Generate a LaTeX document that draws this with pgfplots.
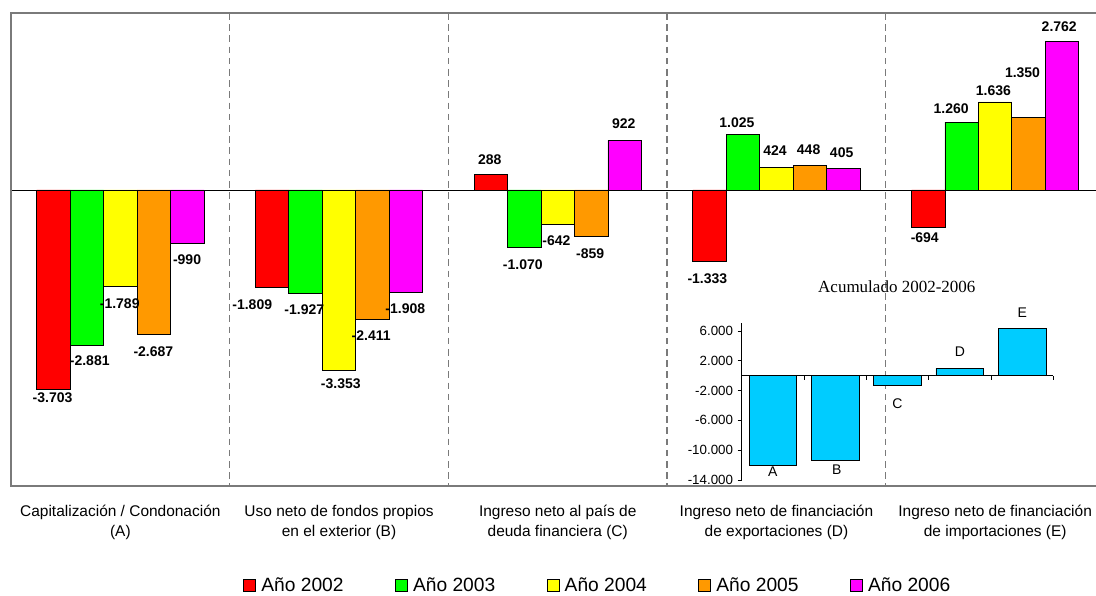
\documentclass[border=0pt]{standalone}
\usepackage{fontspec}
\setmainfont{Liberation Sans}
\newfontfamily\titleserif{Liberation Serif}
\usepackage{pgfplots}
\pgfplotsset{compat=1.18}

\definecolor{a2002}{HTML}{FF0000}
\definecolor{a2003}{HTML}{00FF00}
\definecolor{a2004}{HTML}{FFFF00}
\definecolor{a2005}{HTML}{FF9900}
\definecolor{a2006}{HTML}{FF00FF}
\definecolor{acum}{HTML}{00CCFF}
\definecolor{frame}{HTML}{7A7A7A}

\pgfplotsset{
  sq/.style={legend image code/.code={\draw[##1,draw=black,line width=0.6pt] (0pt,-4.5pt) rectangle (9pt,4.5pt);}},
}
\tikzset{
  lab/.style={font=\bfseries\fontsize{10.5}{12}\selectfont, inner sep=0pt},
  let/.style={font=\fontsize{10.5}{12}\selectfont, inner sep=0pt},
  sep/.style={frame, line width=1pt, dash pattern=on 5pt off 3.4pt},
}

\begin{document}
\begin{tikzpicture}
\useasboundingbox (0,0) rectangle (822pt,447pt);

% main chart: five groups, one bar per year
\begin{axis}[
  at={(8.25pt,82.5pt)}, anchor=south west,
  width=813.75pt, height=354.75pt, scale only axis,
  xmin=-0.5, xmax=4.461, ymin=-5502, ymax=3290,
  axis line style={draw=none},
  ytick=\empty,
  xtick={0,1,2,3,4},
  xticklabels={{Capitalización / Condonación\\(A)},
               {Uso neto de fondos propios\\en el exterior (B)},
               {Ingreso neto al país de\\deuda financiera (C)},
               {Ingreso neto de financiación\\de exportaciones (D)},
               {Ingreso neto de financiación\\de importaciones (E)}},
  major tick length=0pt,
  xticklabel style={align=center, font=\fontsize{11.6}{15}\selectfont, inner sep=0pt, yshift=-14pt},
  ybar=0pt, bar width=25.1pt,
  clip=false,
  legend columns=5,
  legend style={at={(0.2138,-0.210)}, anchor=west, draw=none, fill=none,
    inner sep=0pt, font=\fontsize{14.4}{17}\selectfont,
    nodes={inner sep=0pt}, cells={anchor=west},
    /tikz/every odd column/.append style={column sep=4pt},
    /tikz/every even column/.append style={column sep=38.5pt}},
]
\draw[sep] (axis cs:0.5,3290) -- (axis cs:0.5,-5502);
\draw[sep] (axis cs:1.5,3290) -- (axis cs:1.5,-5502);
\draw[sep] (axis cs:2.5,3290) -- (axis cs:2.5,-5502);
\draw[sep] (axis cs:3.5,3290) -- (axis cs:3.5,-5502);

\addplot[fill=a2002, draw=black, line width=0.7pt, sq] coordinates {(0,-3703) (1,-1809) (2,288) (3,-1333) (4,-694)};
\addlegendentry{Año 2002}
\addplot[fill=a2003, draw=black, line width=0.7pt, sq] coordinates {(0,-2881) (1,-1927) (2,-1070) (3,1025) (4,1260)};
\addlegendentry{Año 2003}
\addplot[fill=a2004, draw=black, line width=0.7pt, sq] coordinates {(0,-1789) (1,-3353) (2,-642) (3,424) (4,1636)};
\addlegendentry{Año 2004}
\addplot[fill=a2005, draw=black, line width=0.7pt, sq] coordinates {(0,-2687) (1,-2411) (2,-859) (3,448) (4,1350)};
\addlegendentry{Año 2005}
\addplot[fill=a2006, draw=black, line width=0.7pt, sq] coordinates {(0,-990) (1,-1908) (2,922) (3,405) (4,2762)};
\addlegendentry{Año 2006}

\draw[black, line width=0.6pt] (axis cs:-0.5,0) -- (axis cs:4.461,0);
\draw[frame, line width=1pt] (rel axis cs:1,1) -- (rel axis cs:0,1) -- (rel axis cs:0,0) -- (rel axis cs:1,0);

% value labels
\node[lab] at (axis cs:-0.310,-3853) {-3.703};
\node[lab] at (axis cs:-0.140,-3165) {-2.881};
\node[lab] at (axis cs:-0.003,-2106) {-1.789};
\node[lab] at (axis cs:0.151,-2998) {-2.687};
\node[lab] at (axis cs:0.305,-1301) {-990};
\node[lab] at (axis cs:0.603,-2138) {-1.809};
\node[lab] at (axis cs:0.841,-2225) {-1.927};
\node[lab] at (axis cs:1.008,-3600) {-3.353};
\node[lab] at (axis cs:1.147,-2714) {-2.411};
\node[lab] at (axis cs:1.303,-2212) {-1.908};
\node[lab] at (axis cs:1.689,571) {288};
\node[lab] at (axis cs:1.840,-1381) {-1.070};
\node[lab] at (axis cs:1.994,-948) {-642};
\node[lab] at (axis cs:2.148,-1177) {-859};
\node[lab] at (axis cs:2.302,1227) {922};
\node[lab] at (axis cs:2.684,-1641) {-1.333};
\node[lab] at (axis cs:2.819,1251) {1.025};
\node[lab] at (axis cs:2.993,725) {424};
\node[lab] at (axis cs:3.147,743) {448};
\node[lab] at (axis cs:3.298,701) {405};
\node[lab] at (axis cs:3.678,-879) {-694};
\node[lab] at (axis cs:3.799,1519) {1.260};
\node[lab] at (axis cs:3.992,1846) {1.636};
\node[lab] at (axis cs:4.125,2180) {1.350};
\node[lab] at (axis cs:4.293,3035) {2.762};
\end{axis}

% inset: accumulated 2002-2006
\begin{axis}[
  at={(556.3pt,87pt)}, anchor=south west,
  width=233.7pt, height=117.4pt, scale only axis,
  xmin=-0.5, xmax=4.5, ymin=-14000, ymax=7000,
  axis x line=middle, axis y line=left,
  axis line style={-, black, line width=0.6pt},
  xtick={0.5,1.5,2.5,3.5,4.5}, xticklabels={},
  ytick={-14000,-10000,-6000,-2000,2000,6000},
  scaled y ticks=false,
  tick align=outside, major tick length=3pt,
  tick style={black, line width=0.6pt},
  yticklabel style={font=\fontsize{10}{12}\selectfont},
  yticklabel={\pgfmathprintnumber[fixed, precision=0, 1000 sep={.}, assume math mode=true]{\tick}},
  ybar, bar width=35.8pt,
  clip=false,
]
\addplot[fill=acum, draw=black, line width=0.7pt] coordinates {(0,-12050) (1,-11408) (2,-1361) (3,969) (4,6314)};
\node[let] at (axis cs:0,-12886) {A};
\node[let] at (axis cs:1.025,-12564) {B};
\node[let] at (axis cs:2,-3705) {C};
\node[let] at (axis cs:3,3221) {D};
\node[let] at (axis cs:4,8510) {E};
\node[font=\titleserif\fontsize{12.75}{14}\selectfont] at (axis cs:1.988,11946) {Acumulado 2002-2006};
\end{axis}
\end{tikzpicture}
\end{document}
